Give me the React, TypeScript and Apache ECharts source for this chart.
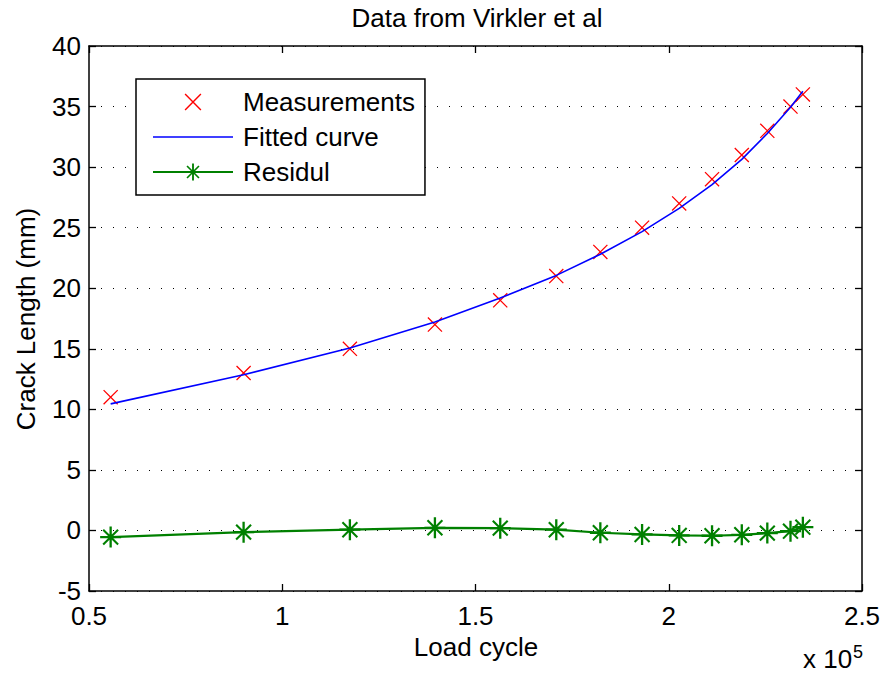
import React, { useEffect, useRef } from "react";
import * as echarts from "echarts";

// Data
const loadCycles = [55600, 90000, 117500, 139500, 156400, 170900, 182300, 193100, 202700, 211200, 218900, 225500, 231500, 234700];
const measurements = [11, 13, 15, 17, 19, 21, 23, 25, 27, 29, 31, 33, 35, 36];
const fittedCurve = [10.45, 12.86, 15.06, 17.22, 19.19, 21.06, 22.81, 24.67, 26.59, 28.56, 30.64, 32.78, 34.94, 36.27];
const residuals = [-0.55, -0.14, 0.06, 0.22, 0.19, 0.06, -0.19, -0.33, -0.41, -0.44, -0.36, -0.22, -0.06, 0.27];
const seriesNames = ["Measurements", "Fitted curve", "Residul"];

const FONT = "'Liberation Sans', Arial, Helvetica, sans-serif";

const CROSS =
  "path://M0,6 L6,0 L100,94 L94,100 Z M94,0 L100,6 L6,100 L0,94 Z";
const ASTERISK =
  "path://M44.5,0 L55.5,0 L55.5,100 L44.5,100 Z M0,44.5 L100,44.5 L100,55.5 L0,55.5 Z " +
  "M18,11 L89,82 L82,89 L11,18 Z M82,11 L89,18 L18,89 L11,82 Z";
const LINE_ICON = "path://M0,0 L100,0 L100,2 L0,2 Z";

const pairs = (ys: number[]) => loadCycles.map((x, i) => [x, ys[i]]);

export default function App() {
  const ref = useRef<HTMLDivElement>(null);
  useEffect(() => {
    if (!ref.current) return;
    const chart = echarts.init(ref.current, undefined, { renderer: "svg" });
    const tickStyle = { show: true, inside: true, length: 7, lineStyle: { color: "#000", width: 1.3 } };
    const axisLine = { show: true, onZero: false, lineStyle: { color: "#000", width: 1.5 } };
    const textStyle = (size: number, align: string) => ({
      font: `${size}px ${FONT}`,
      fill: "#000",
      align,
      verticalAlign: "middle",
      textAlign: align,
      textVerticalAlign: "middle",
    });
    chart.setOption({
      animation: false,
      backgroundColor: "#fff",
      grid: { left: 89, right: 25, top: 46, bottom: 86, containLabel: false },
      xAxis: [
        {
          type: "value",
          min: 50000,
          max: 250000,
          interval: 50000,
          position: "bottom",
          axisLine,
          axisTick: tickStyle,
          splitLine: { show: false },
          axisLabel: {
            fontSize: 26,
            fontFamily: FONT,
            color: "#000",
            margin: 12,
            formatter: (v: number) => String(v / 100000),
          },
        },
        {
          type: "value",
          min: 50000,
          max: 250000,
          interval: 50000,
          position: "top",
          axisLine,
          axisTick: tickStyle,
          splitLine: { show: false },
          axisLabel: { show: false },
        },
      ],
      yAxis: [
        {
          type: "value",
          min: -5,
          max: 40,
          interval: 5,
          position: "left",
          axisLine,
          axisTick: tickStyle,
          splitLine: { show: true, lineStyle: { color: "#000", width: 1, type: [1, 11] } },
          axisLabel: { fontSize: 26, fontFamily: FONT, color: "#000", margin: 8 },
        },
        {
          type: "value",
          min: -5,
          max: 40,
          interval: 5,
          position: "right",
          axisLine,
          axisTick: tickStyle,
          splitLine: { show: false },
          axisLabel: { show: false },
        },
      ],
      legend: {
        show: true,
        orient: "vertical",
        left: 136,
        top: 79,
        padding: [10, 10, 10, 16],
        itemWidth: 80,
        itemHeight: 21,
        itemGap: 9,
        selectedMode: false,
        backgroundColor: "#fff",
        borderColor: "#000",
        borderWidth: 1.5,
        borderRadius: 0,
        textStyle: { fontSize: 26, fontFamily: FONT, color: "#000", lineHeight: 26, padding: [0, 0, 0, 5] },
        data: [
          { name: seriesNames[0] },
          { name: seriesNames[1], icon: LINE_ICON },
          { name: seriesNames[2] },
        ],
      },
      graphic: [
        { type: "text", x: 477, y: 18, style: { text: "Data from Virkler et al", ...textStyle(26, "center") } },
        { type: "text", x: 476, y: 647, style: { text: "Load cycle", ...textStyle(26, "center") } },
        {
          type: "text",
          x: 26,
          y: 319,
          rotation: Math.PI / 2,
          style: { text: "Crack Length (mm)", ...textStyle(26, "center") },
        },
        { type: "text", x: 803, y: 659, style: { text: "x 10", ...textStyle(26, "left") } },
        { type: "text", x: 853, y: 652, style: { text: "5", ...textStyle(18, "left") } },
      ],
      series: [
        {
          name: seriesNames[0],
          type: "line",
          data: pairs(measurements),
          symbol: CROSS,
          symbolSize: 15,
          showSymbol: true,
          lineStyle: { width: 0, opacity: 0 },
          itemStyle: { color: "#ff0000", borderWidth: 0 },
          emphasis: { disabled: true },
          z: 2,
        },
        {
          name: seriesNames[1],
          type: "line",
          data: pairs(fittedCurve),
          symbol: "none",
          lineStyle: { width: 1.6, color: "#0000ff" },
          itemStyle: { color: "#0000ff" },
          emphasis: { disabled: true },
          z: 3,
        },
        {
          name: seriesNames[2],
          type: "line",
          data: pairs(residuals),
          symbol: ASTERISK,
          symbolSize: 21,
          showSymbol: true,
          lineStyle: { width: 2.2, color: "#008000" },
          itemStyle: { color: "#008000", borderWidth: 0 },
          emphasis: { disabled: true },
          z: 4,
        },
      ],
    });
    return () => chart.dispose();
  }, []);
  return <div ref={ref} style={{ width: 887, height: 677, position: "absolute", left: 0, top: 0 }} />;
}
